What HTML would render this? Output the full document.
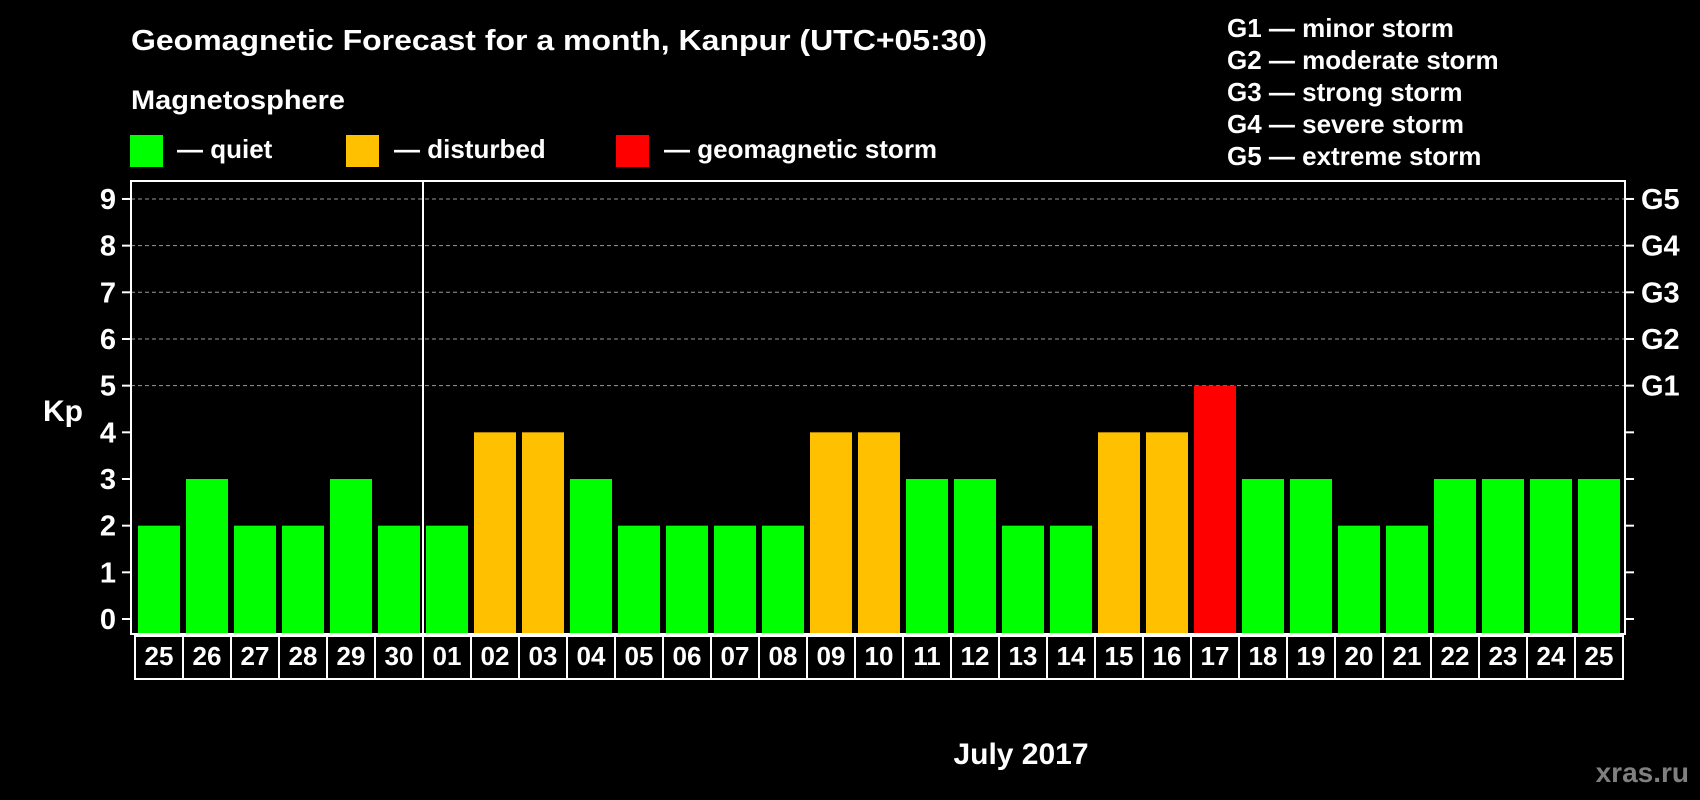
<!DOCTYPE html>
<html><head><meta charset="utf-8"><style>
html,body{margin:0;padding:0;background:#000;}
svg{display:block;font-family:"Liberation Sans",Arial,sans-serif;font-weight:bold;}
</style></head><body>
<svg id="chart" width="1700" height="800" viewBox="0 0 1700 800" xmlns="http://www.w3.org/2000/svg">
<rect x="0" y="0" width="1700" height="800" fill="#000"/>
<text x="131" y="50" font-size="29" fill="#fff" textLength="856" lengthAdjust="spacingAndGlyphs">Geomagnetic Forecast for a month, Kanpur (UTC+05:30)</text>
<text x="131" y="109" font-size="27" fill="#fff" textLength="214" lengthAdjust="spacingAndGlyphs">Magnetosphere</text>
<g>
<rect x="130" y="135" width="33" height="32" fill="#00ff00"/>
<text x="177" y="158" font-size="26" fill="#fff">— quiet</text></g>
<g>
<rect x="346" y="135" width="33" height="32" fill="#ffc000"/>
<text x="394" y="158" font-size="26" fill="#fff">— disturbed</text></g>
<g>
<rect x="616" y="135" width="33" height="32" fill="#ff0000"/>
<text x="664" y="158" font-size="26" fill="#fff">— geomagnetic storm</text></g>
<g font-size="26" fill="#fff">
<text x="1227" y="37">G1 — minor storm</text>
<text x="1227" y="69">G2 — moderate storm</text>
<text x="1227" y="101">G3 — strong storm</text>
<text x="1227" y="133">G4 — severe storm</text>
<text x="1227" y="165">G5 — extreme storm</text>
</g>
<text x="43" y="421" font-size="30" fill="#fff">Kp</text>
<text x="1021" y="764" font-size="30" fill="#fff" text-anchor="middle">July 2017</text>
<text x="1689" y="782" font-size="28" fill="#808080" text-anchor="end">xras.ru</text>
<g id="grid"></g><g id="bars"></g><g id="axes"></g><g id="labels"></g>
</svg>
<script>
const days = ["25","26","27","28","29","30","01","02","03","04","05","06","07","08","09","10","11","12","13","14","15","16","17","18","19","20","21","22","23","24","25"];
const kpValues = [2,3,2,2,3,2,2,4,4,3,2,2,2,2,4,4,3,3,2,2,4,4,5,3,3,2,2,3,3,3,3];
const yTicks = [0,1,2,3,4,5,6,7,8,9];
const gLabels = ["G1","G2","G3","G4","G5"];
const gLevels = [5,6,7,8,9];

const NS = "http://www.w3.org/2000/svg";
const plotL = 131, plotR = 1625, plotT = 181, plotB = 634;
const y0 = 619, unit = 46.67;
const step = 48, barW = 42, barStart = 138, boxStart = 135;
function yScale(v){ return y0 - unit*v; }
function xBar(i){ return barStart + step*i; }
function mk(tag, attrs, parent){ const e=document.createElementNS(NS,tag); for(const k in attrs) e.setAttribute(k,attrs[k]); parent.appendChild(e); return e; }
const grid=document.getElementById('grid'), bars=document.getElementById('bars'), axes=document.getElementById('axes'), labels=document.getElementById('labels');

yTicks.forEach(t=>{
  const y=yScale(t);
  if(t>=5){
    const g=mk('line',{x1:plotL,x2:plotR,y1:y,y2:y,stroke:'#999','stroke-width':1,'stroke-dasharray':'4,3'},grid);
    
    
  }
  const tl=mk('line',{x1:122,x2:plotL,y1:y,y2:y,stroke:'#fff','stroke-width':2},axes);
  
  
  const tr=mk('line',{x1:plotR,x2:1634,y1:y,y2:y,stroke:'#fff','stroke-width':2},axes);
  
  
  const lab=mk('text',{x:116,y:y+10,'font-size':29,fill:'#fff','text-anchor':'end'},labels);
  lab.textContent=t;
  
  
});
gLabels.forEach((g,i)=>{
  const t=mk('text',{x:1641,y:yScale(gLevels[i])+10,'font-size':29,fill:'#fff'},labels);
  t.textContent=g;
  
  
});
kpValues.forEach((v,i)=>{
  const col = v>=5 ? '#ff0000' : (v>=4 ? '#ffc000' : '#00ff00');
  const top=yScale(v);
  const b=mk('rect',{x:xBar(i),y:top,width:barW,height:plotB-top,fill:col},bars);
  
  
  const bx=mk('rect',{x:boxStart+step*i,y:636,width:step,height:43,fill:'none',stroke:'#fff','stroke-width':2},axes);
  
  
  const dl=mk('text',{x:boxStart+step*i+step/2,y:665,'font-size':26,fill:'#fff','text-anchor':'middle'},labels);
  dl.textContent=days[i];
  
  
});
const frame=mk('rect',{x:plotL,y:plotT,width:plotR-plotL,height:plotB-plotT,fill:'none',stroke:'#fff','stroke-width':2},axes);


const sepX = boxStart + step*6;
const sep=mk('line',{x1:sepX,x2:sepX,y1:plotT,y2:679,stroke:'#fff','stroke-width':2},axes);


</script>
</body></html>
